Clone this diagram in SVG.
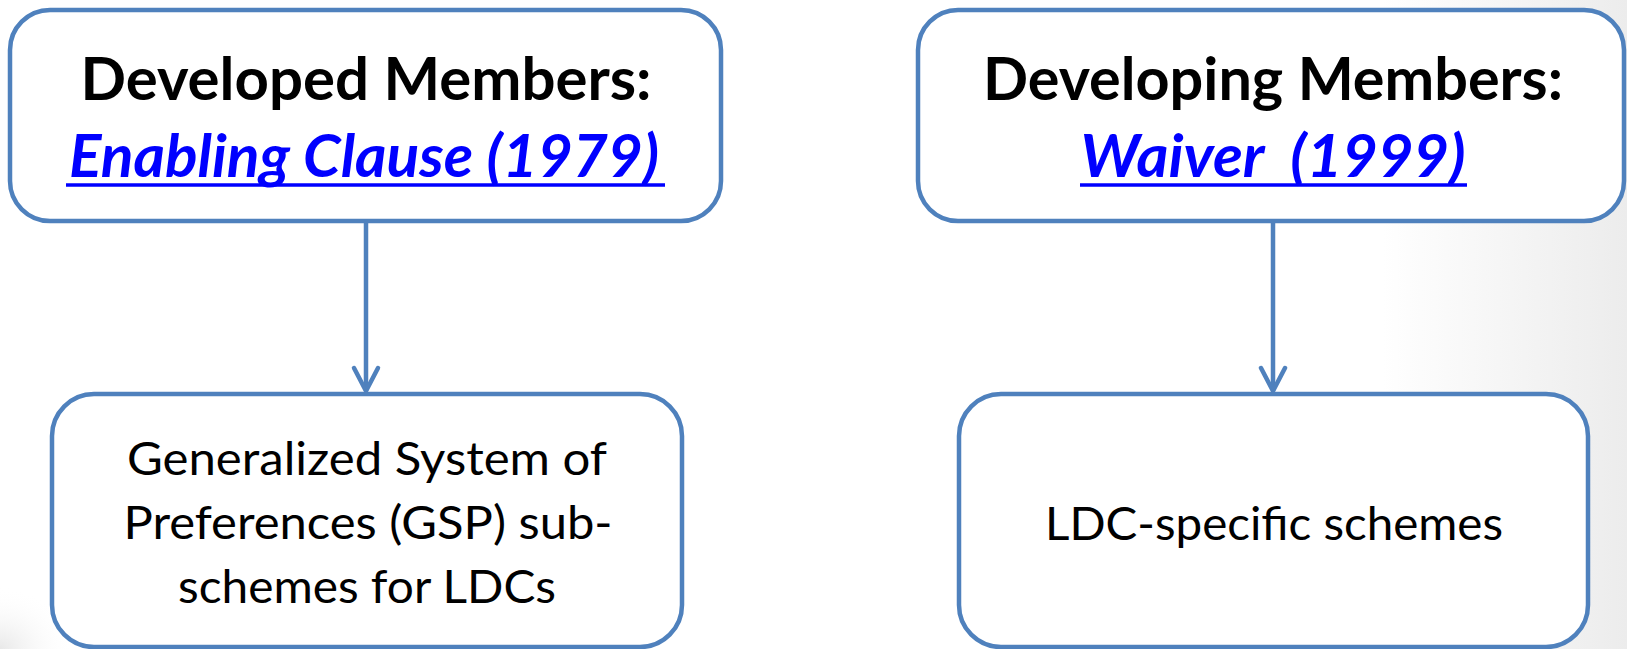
<svg xmlns="http://www.w3.org/2000/svg" width="1627" height="649" viewBox="0 0 1627 649">
  <defs>
    <linearGradient id="bgR" x1="0" y1="0" x2="1" y2="0">
      <stop offset="0" stop-color="#ffffff"/>
      <stop offset="0.85" stop-color="#ffffff"/>
      <stop offset="1" stop-color="#ececec"/>
    </linearGradient>
    <radialGradient id="bgL" cx="0" cy="1" r="0.25">
      <stop offset="0" stop-color="#e8e8e8" stop-opacity="1"/>
      <stop offset="1" stop-color="#ffffff" stop-opacity="0"/>
    </radialGradient>
  </defs>
  <style>
    .box { fill: #ffffff; stroke: #4F81BD; stroke-width: 4.5; }
    .conn { stroke: #4F81BD; stroke-width: 4.5; fill: none; stroke-linecap: round; stroke-linejoin: round; }
    .head { font-family: Lato, "Liberation Sans", sans-serif; font-weight: bold; font-size: 60px; fill: #000000; text-anchor: middle; }
    .link { font-family: Lato, "Liberation Sans", sans-serif; font-weight: bold; font-style: italic; font-size: 60px; fill: #0000FF; text-anchor: middle; }
    .uline { stroke: #0000FF; stroke-width: 3.5; }
    .body { font-family: Lato, "Liberation Sans", sans-serif; font-size: 46px; fill: #000000; text-anchor: middle; }
  </style>
  <rect x="0" y="0" width="1627" height="649" fill="url(#bgR)"/>
  <rect x="0" y="400" width="300" height="249" fill="url(#bgL)"/>

  <g id="connectors">
    <line class="conn" x1="366" y1="222" x2="366" y2="390"/>
    <path class="conn" d="M354,368 L366,391 L378,368"/>
    <line class="conn" x1="1273" y1="222" x2="1273" y2="390"/>
    <path class="conn" d="M1261,368 L1273,391 L1285,368"/>
  </g>

  <g id="node-developed">
    <rect class="box" x="10" y="10" width="711" height="211" rx="40" ry="40"/>
    <text class="head" x="366" y="100" textLength="571" lengthAdjust="spacingAndGlyphs">Developed Members:</text>
    <text class="link" x="364" y="177" textLength="590" lengthAdjust="spacingAndGlyphs">Enabling Clause (1979)</text>
    <line class="uline" x1="66" y1="185" x2="665" y2="185"/>
  </g>

  <g id="node-developing">
    <rect class="box" x="918" y="10" width="706" height="211" rx="40" ry="40"/>
    <text class="head" x="1273" y="100" textLength="580" lengthAdjust="spacingAndGlyphs">Developing Members:</text>
    <text class="link" x="1273" y="177" textLength="385" lengthAdjust="spacingAndGlyphs" xml:space="preserve">Waiver  (1999)</text>
    <line class="uline" x1="1080" y1="185" x2="1467" y2="185"/>
  </g>

  <g id="node-gsp">
    <rect class="box" x="52" y="394" width="630" height="253" rx="42" ry="42"/>
    <text class="body" x="367" y="475" textLength="480" lengthAdjust="spacingAndGlyphs">Generalized System of</text>
    <text class="body" x="368" y="539" textLength="489" lengthAdjust="spacingAndGlyphs">Preferences (GSP) sub-</text>
    <text class="body" x="367" y="603" textLength="378" lengthAdjust="spacingAndGlyphs">schemes for LDCs</text>
  </g>

  <g id="node-ldc">
    <rect class="box" x="959" y="394" width="629" height="253" rx="42" ry="42"/>
    <text class="body" x="1274" y="540" textLength="458" lengthAdjust="spacingAndGlyphs">LDC-specific schemes</text>
  </g>
</svg>
